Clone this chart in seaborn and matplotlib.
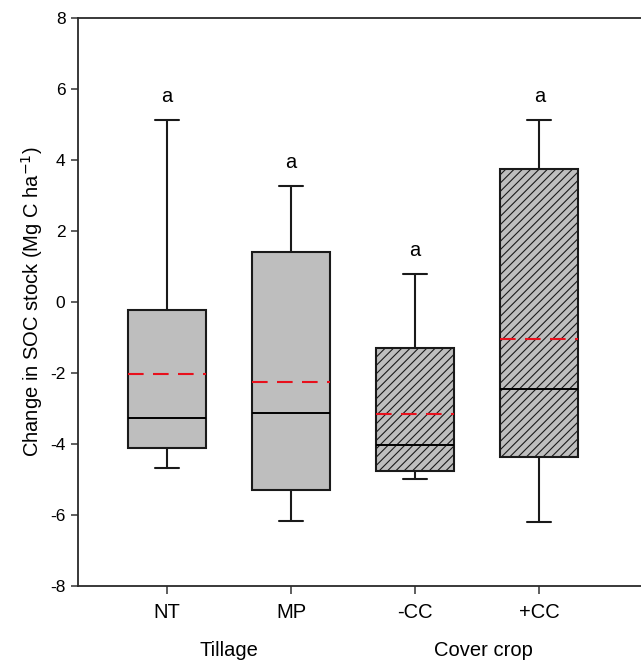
import numpy as np
import pandas as pd
import matplotlib
matplotlib.use("Agg")
import matplotlib.pyplot as plt
import seaborn as sns

# Five-number summaries (min, Q1, median, Q3, max) of SOC stock change per treatment
groups = ["NT", "MP", "-CC", "+CC"]
nt_vals = [-4.69, -4.11, -3.26, -0.23, 5.13]
mp_vals = [-6.17, -5.30, -3.13, 1.41, 3.27]
mcc_vals = [-4.99, -4.76, -4.03, -1.30, 0.79]
pcc_vals = [-6.20, -4.37, -2.45, 3.75, 5.13]
means = [-2.02, -2.24, -3.16, -1.04]
letters = ["a", "a", "a", "a"]
group_titles = ["Tillage", "Cover crop"]

df = pd.DataFrame({
    "group": np.repeat(groups, 5),
    "value": nt_vals + mp_vals + mcc_vals + pcc_vals,
})

sns.set_style("ticks")
plt.rcParams["font.family"] = ["Liberation Sans", "DejaVu Sans"]
plt.rcParams["axes.unicode_minus"] = False
plt.rcParams["hatch.color"] = "#333333"
plt.rcParams["hatch.linewidth"] = 0.8
plt.rcParams["text.color"] = "black"
plt.rcParams["axes.labelcolor"] = "black"
plt.rcParams["xtick.color"] = "black"
plt.rcParams["ytick.color"] = "black"

fig = plt.figure(figsize=(6.41, 6.63), dpi=100)
ax = fig.add_axes([78 / 641, 77 / 663, 1 - 78 / 641, 568 / 663])

edge = "#1a1a1a"
box_w = 0.63
sns.boxplot(
    data=df, x="group", y="value", order=groups, ax=ax,
    whis=np.inf, width=box_w, color="#bebebe", saturation=1,
    linecolor=edge, linewidth=1.5, showfliers=False,
    medianprops={"color": "black", "linewidth": 1.4},
    capwidths=0.19,
)

# hatch the cover-crop boxes
for i, p in enumerate(ax.patches):
    p.set_facecolor("#bebebe")
    p.set_edgecolor(edge)
    if i >= 2:
        p.set_hatch("////")

# mean lines (red dashed)
for i, m in enumerate(means):
    ax.plot([i - box_w / 2, i + box_w / 2], [m, m], color="#e8101c",
            lw=1.5, dashes=[7.5, 4.5], zorder=5)

# significance letters above the upper whiskers
maxima = [nt_vals[-1], mp_vals[-1], mcc_vals[-1], pcc_vals[-1]]
for i, (top, lab) in enumerate(zip(maxima, letters)):
    ax.text(i, top + 0.38, lab, ha="center", va="bottom", fontsize=14.5)

ax.set_ylim(-8, 8)
ax.set_xlim(-0.718, 3.82)
ax.set_yticks(np.arange(-8, 9, 2))
ax.set_xlabel("")
ax.set_ylabel("Change in SOC stock (Mg C ha$^{-1}$)", fontsize=14.5, labelpad=4)
ax.tick_params(axis="y", labelsize=12.5, length=5, width=1.1, color="#333333",
               labelcolor="black", pad=4)
ax.tick_params(axis="x", labelsize=14.5, length=6, width=1.1, color="#333333",
               labelcolor="black", pad=6)

for side in ["left", "top", "bottom"]:
    ax.spines[side].set_visible(True)
    ax.spines[side].set_linewidth(1.3)
    ax.spines[side].set_color("#2a2a2a")
ax.spines["right"].set_visible(False)

# group titles below the category labels
ax.text(0.5, -0.113, group_titles[0], transform=ax.get_xaxis_transform(),
        ha="center", va="center", fontsize=14.5)
ax.text(2.55, -0.113, group_titles[1], transform=ax.get_xaxis_transform(),
        ha="center", va="center", fontsize=14.5)

fig.savefig("out.png", dpi=100)
